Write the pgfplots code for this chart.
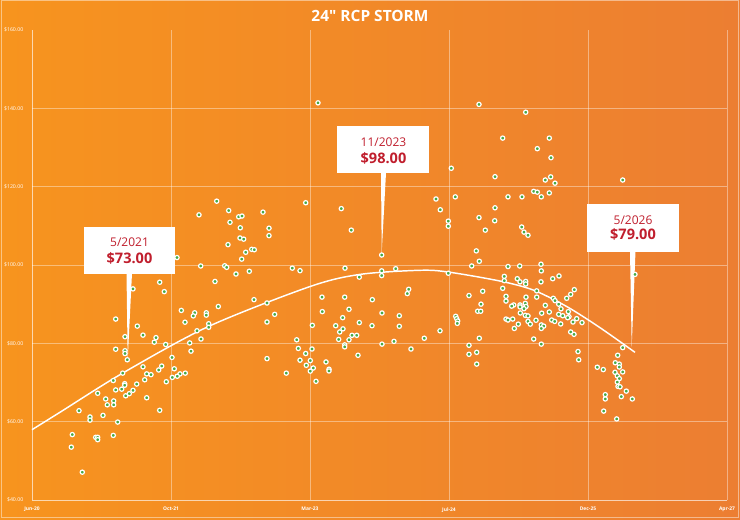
\documentclass[border=0pt]{standalone}
\usepackage{pgfplots}
\pgfplotsset{compat=1.18}
\usepackage{fontspec}
\setmainfont{Open Sans}
\newfontfamily\titlefont{Open Sans}[Ligatures=TeXOff]
\definecolor{bgL}{RGB}{247,148,30}
\definecolor{bgR}{RGB}{236,126,50}
\definecolor{calred}{RGB}{192,30,45}
\definecolor{dotgreen}{RGB}{70,170,70}

\pgfplotstableread{
x y
167 112.8
145 101.9
168.7 99.75
127.7 95.6
101 93.9
132.3 93.2
149.3 88.4
162.7 87.8
161.3 87.0
174.3 87.8
174.3 87.2
83.7 86.2
153 85.4
105.3 84.4
176.7 85.0
176.7 84.1
165 83.2
93 81.7
111 82.1
124 81.45
122.3 80.3
169 81.1
133.7 79.7
157.7 80.1
83.7 78.5
93 78.1
93 77.4
159 78.0
95.3 75.8
140 76.4
111 74.0
129.7 74.2
142.3 73.5
126.7 73.2
90.7 72.4
114.7 72.2
119 72.0
148 72.2
145.3 71.6
153.3 72.4
140.3 71.3
112.7 70.7
81.3 70.5
134.3 70.2
92.7 69.7
92.7 69.3
104.7 69.6
83.7 68.1
89.7 68.3
101 68.0
65.7 67.25
97.3 67.15
93.7 66.6
73.7 65.8
114.7 66.1
81.7 65.3
81.7 64.3
75.3 64.3
47 62.8
127.7 62.9
58 61.2
58 60.4
71 61.6
85.7 59.9
40.3 56.7
63.7 56.0
65.7 56.0
65.7 55.4
81.3 56.5
39.3 53.5
50.3 47.1
286 141.4
184.7 116.3
273.7 115.9
309.3 114.4
196.7 113.9
231 113.5
206.7 112.3
210 112.5
198 110.9
208.3 109.5
237 109.4
319.3 108.9
237 107.5
208 106.9
211.7 106.6
196 105.2
213.7 103.25
219.7 104.0
222.3 103.9
209.7 101.5
192.7 99.8
194.7 99.4
260.3 99.2
268 98.55
313 99.2
204 97.7
217.3 98.4
183 95.8
327.3 96.9
222 91.15
235 90.3
290 91.8
312.7 91.8
186.3 89.4
317 88.7
290.3 88.1
242.7 87.4
310.7 86.55
327.3 85.3
235 85.45
280.3 84.6
303.7 84.5
311 83.7
307.7 82.9
320 82.05
324.7 82.05
264.7 80.9
306.7 81.0
317 80.9
312.7 79.6
312.7 79.1
266.3 78.7
280 78.55
273.7 77.4
235 76.1
268 75.7
278.3 75.6
326 76.95
294 75.25
274.3 74.4
281.3 73.7
278.3 72.9
297 73.4
297 72.95
254.3 72.4
284 70.3
447 141.0
470.7 132.4
419.3 124.7
463 122.55
404 116.85
423.3 117.4
476 117.4
408.3 114.1
463 114.6
447 112.1
462.7 111.3
416.3 111.2
416.3 109.9
453.3 108.9
349.7 102.55
444.3 103.6
447.3 100.95
439.7 99.75
476 99.6
349.7 98.5
349.7 97.3
363.7 99.05
416.3 97.9
472.3 97.1
472.3 96.0
470.7 94.05
376.7 93.8
375.3 92.7
450.7 93.3
437 92.2
474 92.0
474 90.8
340.3 91.15
449 90.0
350 87.75
445.7 88.2
448.7 88.2
367.3 87.05
423.7 86.9
424.7 86.3
425.7 85.7
425.3 85.1
474 86.2
476 85.95
340 84.5
367.3 84.35
408 83.2
392.3 81.3
447.3 81.3
362 80.5
350 79.8
379 78.55
437 79.5
437 77.2
444.7 77.7
444.7 74.7
493.7 139.0
517.3 132.4
505.3 129.7
519 127.4
590.7 121.7
513.3 121.7
518.7 122.5
523 120.9
501.7 118.8
505.3 118.6
509.3 117.4
517.3 118.4
490 117.4
489.7 109.7
492 108.4
496 107.6
487.7 99.75
509 100.2
509.3 98.5
603 97.6
485.3 96.5
488 95.7
493.7 95.8
493.7 95.15
509 95.7
520.7 96.5
527 97.2
504.7 93.4
542.3 93.7
538.7 92.5
534.7 91.5
494 91.8
504.7 91.8
521.3 91.5
523 90.9
481.7 89.8
479.7 89.5
488 89.8
488 89.3
493.3 90.2
494 89.4
492 88.85
513.3 89.7
526.7 90.0
529 88.8
488.3 87.75
509.7 87.7
517.3 88.0
526.7 87.4
530.7 87.05
536.3 88.1
537 86.8
535.7 86.55
544.7 86.3
541 85.45
493.3 87.15
496 87.0
480.7 86.2
504 85.9
519.7 85.95
522.7 85.6
528.7 84.95
550 85.3
486.3 84.9
496 85.6
498.3 84.9
509.3 84.7
511.7 84.4
509.3 83.8
482.3 83.8
538.7 82.9
542 82.3
501.7 81.1
509.3 79.8
546 77.9
546.7 75.8
590.7 78.9
585.7 76.95
565.3 73.9
571.3 73.3
583.3 75.05
587.3 74.7
587.3 73.95
583 72.6
590.7 72.7
585.3 71.7
587.3 71.0
585.3 70.1
586 69.0
588 68.9
594.3 67.8
589.3 66.4
600.3 65.8
573.3 66.9
573.3 65.8
571.7 62.7
584.7 60.7
}\prices

\begin{document}
\begin{tikzpicture}
\shade[left color=bgL,right color=bgR] (0,0) rectangle (555pt,389.25pt);
\draw[white, draw opacity=0.45, line width=0.75pt] (0.8pt,1.4pt) rectangle (554.2pt,388.5pt);
\node[font=\titlefont\fontsize{11.6}{13}\selectfont\bfseries, text=white] at (277.5pt,377pt) {24" RCP STORM};
\begin{axis}[
 at={(24pt,14.25pt)}, anchor=south west, scale only axis,
 width=521.25pt, height=352.5pt,
 xmin=0,xmax=695,ymin=40,ymax=160,
 axis x line*=bottom, axis y line*=left,
 axis line style={white, draw opacity=0.4, line width=0.75pt},
 xtick={0,139,278,417,556,695},
 xticklabels={Jun-20,Oct-21,Mar-23,Jul-24,Dec-25,Apr-27},
 ytick={40,60,80,100,120,140},
 yticklabels={\$40.00,\$60.00,\$80.00,\$100.00,\$120.00,\$140.00},
 extra y ticks={160}, extra y tick labels={\$160.00}, extra y tick style={grid=none},
 grid=major, major grid style={white, draw opacity=0.4, line width=0.75pt},
 major tick length=0pt,
 tick label style={text=white},
 xticklabel style={font=\fontsize{3.7}{5}\selectfont\bfseries, yshift=-2pt},
 yticklabel style={font=\fontsize{3.9}{5}\selectfont, xshift=-3pt},
 clip=false,
]
\addplot[only marks, mark=*, mark size=1.6pt, mark options={draw=white, fill=dotgreen, line width=0.9pt}] table[x=x,y=y] {\prices};
\addplot[white, line width=1.1pt, smooth, no marks] coordinates {
(0,57.95) (28,62.4) (90.7,72.4) (176,84.25) (278,94.5) (328,97.6) (388,98.65) (416.3,98.2) (468,95.9) (501.3,93.6) (534.7,89.4) (568,84.0) (603,77.7)};
% callout 1
\fill[white] (axis cs:52,97.7) rectangle (axis cs:143.3,109.8);
\fill[white] (axis cs:94.5,97.9) -- (axis cs:100,97.9) -- (axis cs:95.7,75.75) -- cycle;
\node[anchor=base, text=calred, font=\fontsize{9}{11}\selectfont] at (axis cs:97.5,104.67) {5/2021};
\node[anchor=base, text=calred, font=\fontsize{10.9}{14}\selectfont\bfseries] at (axis cs:97.5,100.4) {\$73.00};
% callout 2
\fill[white] (axis cs:305.3,123.4) rectangle (axis cs:397.3,135.5);
\fill[white] (axis cs:349,123.5) -- (axis cs:354,123.5) -- (axis cs:349.7,103.1) -- cycle;
\node[anchor=base, text=calred, font=\fontsize{9}{11}\selectfont] at (axis cs:351.5,130.2) {11/2023};
\node[anchor=base, text=calred, font=\fontsize{10.9}{14}\selectfont\bfseries] at (axis cs:351.5,125.96) {\$98.00};
% callout 3
\fill[white] (axis cs:555.3,103.4) rectangle (axis cs:647,115.6);
\fill[white] (axis cs:598,103.5) -- (axis cs:603.5,103.5) -- (axis cs:599.7,79.1) -- cycle;
\node[anchor=base, text=calred, font=\fontsize{9}{11}\selectfont] at (axis cs:601,110.4) {5/2026};
\node[anchor=base, text=calred, font=\fontsize{10.9}{14}\selectfont\bfseries] at (axis cs:601,106.4) {\$79.00};
\end{axis}
\pgfresetboundingbox
\useasboundingbox (0,0) rectangle (555pt,389.25pt);
\end{tikzpicture}
\end{document}
